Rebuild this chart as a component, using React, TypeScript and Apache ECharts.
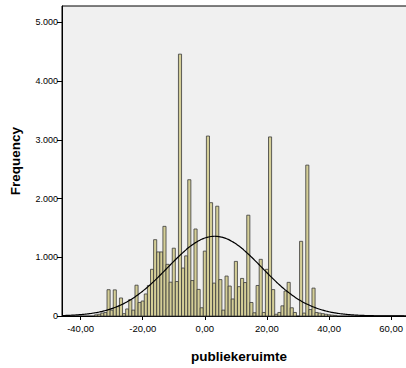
import React, { useEffect, useRef } from "react";
import * as echarts from "echarts";

// Histogram bins (centre of each 1-unit bin) and their frequencies
const binCenters = [
  -35, -34, -33, -32, -31, -30, -29, -28, -27, -26, -25, -24, -23, -22, -21, -20, -19, -18,
  -17, -16, -15, -14, -13, -12, -11, -10, -9, -8, -7, -6, -5, -4, -3, -2, -1,
  0, 1, 2, 3, 4, 5, 6, 7, 8, 9, 10, 11, 12, 13, 14, 15, 16, 17, 18, 19, 20,
  21, 22, 23, 24, 25, 26, 27, 28, 29, 30, 31, 32, 33, 34, 35, 36, 37, 38, 39, 40, 41, 42,
];
const counts = [
  20, 30, 50, 60, 448, 100, 445, 160, 307, 40, 120, 280, 100, 525, 230, 255, 375, 520,
  795, 1300, 1091, 1091, 1527, 880, 576, 1155, 587, 4460, 817, 1024, 2321, 604, 1482, 453, 140,
  1105, 3065, 1930, 560, 1870, 620, 100, 680, 510, 290, 930, 500, 640, 570, 1717, 230, 55, 520, 965, 60, 795,
  3050, 450, 30, 60, 173, 425, 573, 140, 60, 0, 1272, 50, 2570, 110, 475, 60, 50, 40, 30, 20, 15, 10,
];

// Normal curve parameters
const curveMean = 3.2;
const curveSd = 15.2;
const binWidth = 1;

const xTicks = [-40, -20, 0, 20, 40, 60];
const yTicks = [0, 1000, 2000, 3000, 4000, 5000];

const X_MIN = -46.0;
const X_MAX = 68.0;
const Y_MAX = 5280;

export default function App() {
  const ref = useRef<HTMLDivElement>(null);

  useEffect(() => {
    if (!ref.current) return;
    const chart = echarts.init(ref.current, null, { renderer: "svg" });

    const total = counts.reduce((a, b) => a + b, 0);
    const curve: number[][] = [];
    for (let x = X_MIN; x <= X_MAX + 1e-9; x += 0.5) {
      const z = (x - curveMean) / curveSd;
      const y = (total * binWidth * Math.exp(-0.5 * z * z)) / (curveSd * Math.sqrt(2 * Math.PI));
      curve.push([x, y]);
    }

    const barData = binCenters.map((c, i) => [c, counts[i]]);
    const fmtX = (v: number) => v.toFixed(2).replace(".", ",");
    const fmtY = (v: number) => String(v).replace(/\B(?=(\d{3})+(?!\d))/g, ".");

    chart.setOption({
      animation: false,
      backgroundColor: "#ffffff",
      grid: {
        left: 55,
        top: 6,
        right: 0,
        bottom: 47,
        show: true,
        backgroundColor: "#f0f0f0",
        borderColor: "#000000",
        borderWidth: 1,
      },
      xAxis: {
        type: "value",
        min: X_MIN,
        max: X_MAX,
        name: "publiekeruimte",
        nameLocation: "middle",
        nameGap: 33,
        nameTextStyle: {
          fontFamily: "Liberation Sans",
          fontWeight: "bold",
          fontSize: 13.5,
          color: "#000",
        },
        axisLine: { show: true, onZero: false, lineStyle: { color: "#000", width: 1 } },
        axisTick: {
          show: true,
          length: 4,
          customValues: xTicks,
          lineStyle: { color: "#000" },
        },
        axisLabel: {
          customValues: xTicks,
          formatter: fmtX,
          fontFamily: "Liberation Sans",
          fontSize: 9.5,
          color: "#000",
          margin: 7,
        },
        splitLine: { show: false },
      },
      yAxis: {
        type: "value",
        min: 0,
        max: Y_MAX,
        name: "Frequency",
        nameLocation: "middle",
        nameGap: 40,
        nameRotate: 90,
        nameTextStyle: {
          fontFamily: "Liberation Sans",
          fontWeight: "bold",
          fontSize: 13.5,
          color: "#000",
        },
        axisLine: { show: true, onZero: false, lineStyle: { color: "#000", width: 1 } },
        axisTick: {
          show: true,
          length: 5,
          customValues: yTicks,
          lineStyle: { color: "#000" },
        },
        axisLabel: {
          customValues: yTicks,
          formatter: fmtY,
          fontFamily: "Liberation Sans",
          fontSize: 9,
          color: "#000",
          margin: 4,
        },
        splitLine: { show: false },
      },
      series: [
        {
          type: "custom",
          name: "bars",
          data: barData,
          encode: { x: 0, y: 1 },
          renderItem: (params: any, api: any) => {
            const c = api.value(0);
            const v = api.value(1);
            if (!v) return null;
            const p0 = api.coord([c - binWidth / 2, 0]);
            const p1 = api.coord([c + binWidth / 2, v]);
            return {
              type: "rect",
              shape: { x: p0[0], y: p1[1], width: p1[0] - p0[0], height: p0[1] - p1[1] },
              style: { fill: "#d4ce97", stroke: "#3a3a3a", lineWidth: 0.8 },
            };
          },
          z: 2,
        },
        {
          type: "line",
          name: "normal",
          data: curve,
          showSymbol: false,
          smooth: true,
          lineStyle: { color: "#000", width: 1.2 },
          z: 3,
        },
      ],
    });

    return () => chart.dispose();
  }, []);

  return (
    <div
      style={{
        position: "fixed",
        left: 0,
        top: 0,
        width: 406,
        height: 368,
        overflow: "hidden",
        background: "#fff",
      }}
    >
      <div ref={ref} style={{ width: 416, height: 368 }} />
    </div>
  );
}
